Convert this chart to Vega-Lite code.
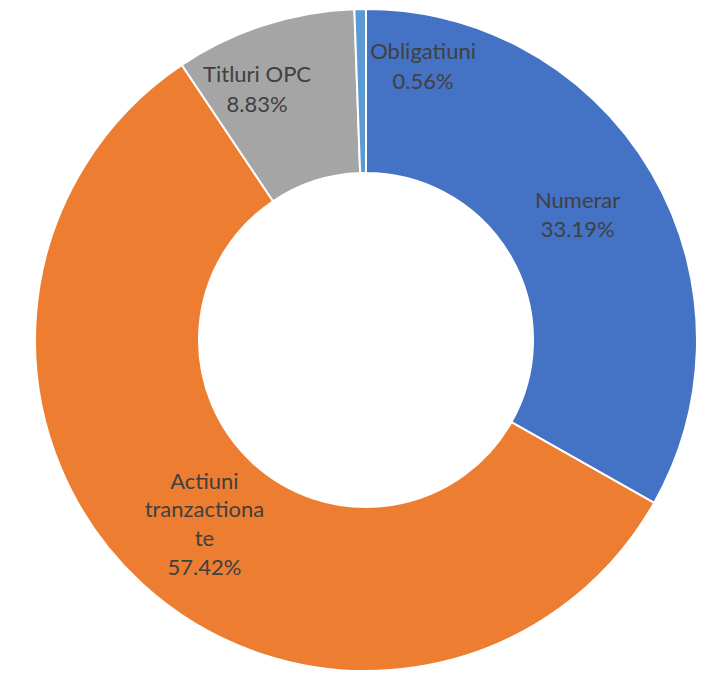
{
  "$schema": "https://vega.github.io/schema/vega-lite/v6.json",
  "width": 678,
  "height": 680,
  "autosize": "none",
  "padding": {"left": 27, "top": 0, "right": 0, "bottom": 0},
  "background": "white",
  "view": {"stroke": null},
  "data": {"values": [
    {"category": "Numerar", "value": 33.19},
    {"category": "Actiuni tranzactionate", "value": 57.42},
    {"category": "Titluri OPC", "value": 8.83},
    {"category": "Obligatiuni", "value": 0.56}
  ]},
  "transform": [
    {"calculate": "indexof(['Numerar','Actiuni tranzactionate','Titluri OPC','Obligatiuni'], datum.category)", "as": "ord"},
    {"calculate": "datum.category == 'Actiuni tranzactionate' ? ['Actiuni','tranzactiona','te', format(datum.value,'.2f') + '%'] : [datum.category, format(datum.value,'.2f') + '%']", "as": "label"}
  ],
  "encoding": {
    "theta": {"field": "value", "type": "quantitative", "stack": true},
    "order": {"field": "ord", "type": "quantitative"}
  },
  "layer": [
    {
      "mark": {"type": "arc", "outerRadius": 331, "innerRadius": 167, "stroke": "white", "strokeWidth": 2},
      "encoding": {
        "color": {
          "field": "category", "type": "nominal",
          "scale": {"domain": ["Numerar", "Actiuni tranzactionate", "Titluri OPC", "Obligatiuni"], "range": ["#4472C4", "#ED7D31", "#A5A5A5", "#5B9BD5"]},
          "legend": null
        }
      }
    },
    {
      "mark": {"type": "text", "radius": 245, "dx": 0, "dy": -16, "font": "Lato", "fontSize": 22, "fill": "#404040", "lineHeight": 29.5, "align": "center", "baseline": "middle"},
      "encoding": {"text": {"condition": {"test": "datum.ord == 0", "field": "label", "type": "nominal"}, "value": ""}}
    },
    {
      "mark": {"type": "text", "radius": 245, "dx": 5, "dy": -38, "font": "Lato", "fontSize": 22, "fill": "#404040", "lineHeight": 28.7, "align": "center", "baseline": "middle"},
      "encoding": {"text": {"condition": {"test": "datum.ord == 1", "field": "label", "type": "nominal"}, "value": ""}}
    },
    {
      "mark": {"type": "text", "radius": 273, "dx": -25, "dy": -5, "font": "Lato", "fontSize": 22, "fill": "#404040", "lineHeight": 29.5, "align": "center", "baseline": "middle"},
      "encoding": {"text": {"condition": {"test": "datum.ord == 2", "field": "label", "type": "nominal"}, "value": ""}}
    },
    {
      "mark": {"type": "text", "radius": 279, "dx": 62, "dy": -9, "font": "Lato", "fontSize": 22, "fill": "#404040", "lineHeight": 29.5, "align": "center", "baseline": "middle"},
      "encoding": {"text": {"condition": {"test": "datum.ord == 3", "field": "label", "type": "nominal"}, "value": ""}}
    }
  ]
}
